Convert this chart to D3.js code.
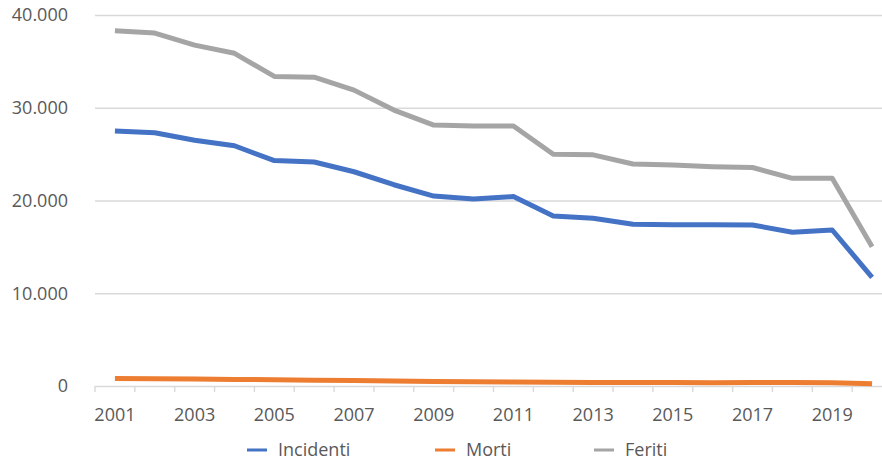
<!DOCTYPE html>
<html>
<head>
<meta charset="utf-8">
<script src="https://cdn.jsdelivr.net/npm/d3@7"></script>
<style>
  html, body { margin: 0; padding: 0; background: #fff; }
  svg { display: block; font-family: "Open Sans", sans-serif; }
</style>
</head>
<body>
<svg id="chart" width="882" height="461"></svg>
<script>
// Road accidents 2001–2020: accidents, deaths, injured
const years = d3.range(2001, 2021);
const incidenti = [27500, 27300, 26500, 25900, 24300, 24150, 23100, 21700, 20480, 20150, 20420, 18320, 18080, 17430, 17380, 17380, 17360, 16580, 16820, 11720];
const morti = [800, 780, 750, 710, 670, 620, 580, 530, 480, 450, 430, 410, 390, 370, 370, 360, 390, 370, 360, 250];
const feriti = [38300, 38050, 36750, 35870, 33380, 33300, 31900, 29750, 28130, 28030, 28030, 24980, 24920, 23940, 23830, 23650, 23560, 22390, 22390, 15020];
const yTickValues = [0, 10000, 20000, 30000, 40000];
const xTickLabels = years.filter(y => y % 2 === 1);

const seriesNames = ["Incidenti", "Morti", "Feriti"];
const seriesValues = [incidenti, morti, feriti];
const seriesColors = ["#4472C4", "#ED7D31", "#A5A5A5"];

const it = d3.formatLocale({ decimal: ",", thousands: ".", grouping: [3], currency: ["€", ""] });
const fmt = it.format(",d");

const svg = d3.select("#chart");
const plotLeft = 95, plotRight = 892, plotTop = 15, plotBottom = 386;

const x = d3.scaleBand().domain(years).range([plotLeft, plotRight]).padding(0);
const y = d3.scaleLinear().domain([0, 40000]).range([plotBottom, plotTop]);
const cx = d => x(d) + x.bandwidth() / 2;

// Horizontal gridlines with value labels
const yAxis = svg.append("g")
  .attr("transform", `translate(${plotLeft},0)`)
  .call(d3.axisLeft(y).tickValues(yTickValues).tickFormat(fmt)
    .tickSize(-(plotRight - plotLeft)).tickPadding(27));
yAxis.select(".domain").remove();
yAxis.selectAll(".tick line").attr("stroke", "#d9d9d9").attr("stroke-width", 1.6);
yAxis.selectAll(".tick text")
  .attr("fill", "#595959").attr("font-size", 18).attr("font-family", "Open Sans, sans-serif");

// Category axis: tick marks between years, labels on odd years
const xAxis = svg.append("g")
  .attr("transform", `translate(0,${plotBottom})`)
  .call(d3.axisBottom(x).tickValues(xTickLabels).tickSize(0).tickPadding(22));
xAxis.select(".domain").remove();
xAxis.selectAll(".tick text")
  .attr("fill", "#595959").attr("font-size", 18).attr("font-family", "Open Sans, sans-serif");

const edges = years.map(d => x(d)).concat([x(years[years.length - 1]) + x.bandwidth()]);
svg.append("g").selectAll("line").data(edges).join("line")
  .attr("x1", d => d).attr("x2", d => d)
  .attr("y1", plotBottom).attr("y2", plotBottom + 6)
  .attr("stroke", "#d9d9d9").attr("stroke-width", 1.4);

// Series lines
const line = d3.line().x((d, i) => cx(years[i])).y(d => y(d));
svg.append("g").selectAll("path").data(seriesValues).join("path")
  .attr("d", d => line(d))
  .attr("fill", "none")
  .attr("stroke", (d, i) => seriesColors[i])
  .attr("stroke-width", 5)
  .attr("stroke-linejoin", "round");

// Legend
const legendX = [247, 435, 594];
const legend = svg.append("g").selectAll("g").data(seriesNames).join("g")
  .attr("transform", (d, i) => `translate(${legendX[i]},450)`);
legend.append("line")
  .attr("x1", 0).attr("x2", 20).attr("y1", 0).attr("y2", 0)
  .attr("stroke", (d, i) => seriesColors[i]).attr("stroke-width", 3);
legend.append("text")
  .attr("x", 31).attr("y", 0).attr("dy", "0.35em")
  .attr("fill", "#595959").attr("font-size", 18)
  .text(d => d);
</script>
</body>
</html>
